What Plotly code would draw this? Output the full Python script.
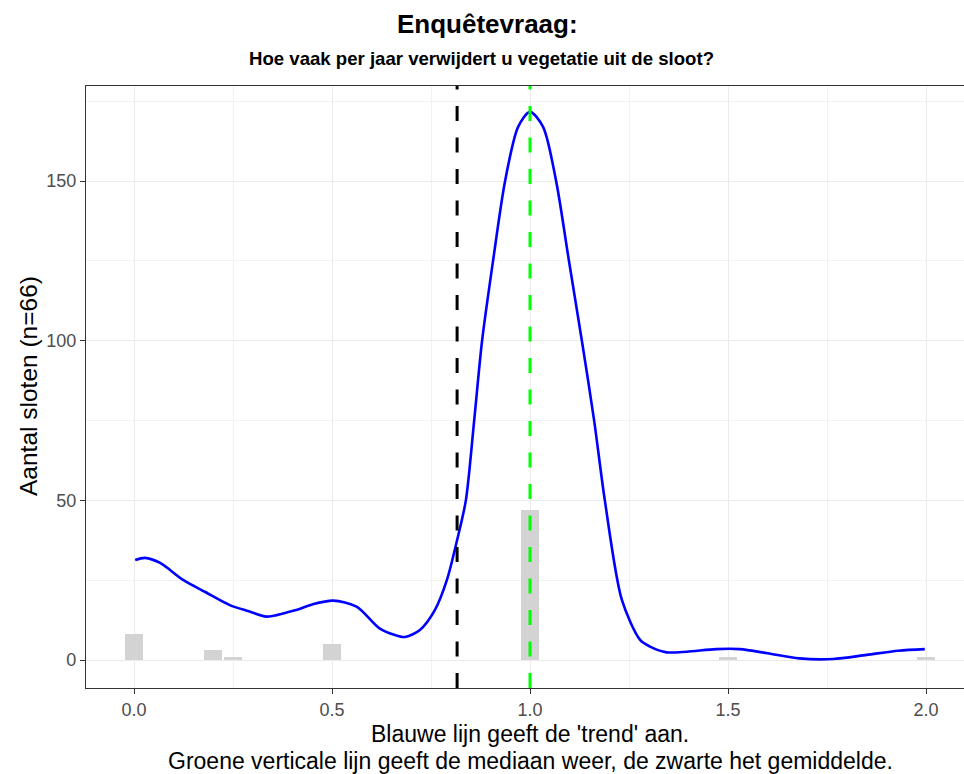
import plotly.graph_objects as go

# ---- data ----
bar_x = [0.0, 0.2, 0.25, 0.5, 1.0, 1.5, 2.0]
bar_counts = [8, 3, 1, 5, 47, 1, 1]

trend_x = [0.003, 0.028, 0.066, 0.125, 0.18, 0.242, 0.29, 0.335, 0.41, 0.45, 0.503,
           0.562, 0.62, 0.659, 0.684, 0.722, 0.76, 0.79, 0.816, 0.838, 0.859, 0.879,
           0.907, 0.937, 0.97, 1.0, 1.033, 1.066, 1.098, 1.131, 1.162, 1.189, 1.232,
           1.278, 1.303, 1.345, 1.396, 1.47, 1.53, 1.6, 1.68, 1.765, 1.85, 1.93, 1.997]
trend_y = [31.3, 32.0, 30.4, 25.0, 21.3, 17.2, 15.3, 13.6, 15.7, 17.4, 18.6,
           16.7, 9.9, 7.8, 7.2, 9.4, 15.7, 25.0, 37.6, 50.0, 75.0, 100.0,
           125.3, 150.0, 167.0, 171.7, 167.0, 150.0, 125.3, 100.0, 75.0, 50.0, 18.8,
           6.3, 4.2, 2.4, 2.6, 3.4, 3.4, 2.1, 0.5, 0.3, 1.6, 2.9, 3.4]

mean_value = sum(x * c for x, c in zip(bar_x, bar_counts)) / sum(bar_counts)
median_value = 1.0

x_ticks = [0.0, 0.5, 1.0, 1.5, 2.0]
x_tick_labels = ["0.0", "0.5", "1.0", "1.5", "2.0"]
y_ticks = [0, 50, 100, 150]
y_tick_labels = ["0", "50", "100", "150"]

title_text = "Enquêtevraag:"
subtitle_text = "Hoe vaak per jaar verwijdert u vegetatie uit de sloot?"
x_title_lines = ["Blauwe lijn geeft de 'trend' aan.",
                 "Groene verticale lijn geeft de mediaan weer, de zwarte het gemiddelde."]
y_title = "Aantal sloten (n=66)"

FONT = "Liberation Sans, Arial, sans-serif"

fig = go.Figure()
fig.add_trace(go.Bar(x=bar_x, y=bar_counts, width=0.045,
                     marker=dict(color="#d3d3d3", line=dict(width=0)),
                     hoverinfo="x+y", showlegend=False))
fig.add_trace(go.Scatter(x=trend_x, y=trend_y, mode="lines",
                         line=dict(color="#0000ff", width=2.6, shape="spline", smoothing=0.8),
                         showlegend=False))

for xv, col in [(mean_value, "#000000"), (median_value, "#00ff00")]:
    fig.add_shape(type="line", xref="x", yref="paper", x0=xv, x1=xv, y0=0, y1=1,
                  line=dict(color=col, width=3, dash="15px,16.5px"), layer="above")

W, H = 964, 774
ml, mr, mt, mb = 86, 0, 86, 86
pw, ph = W - ml - mr, H - mt - mb

def px_x(p):
    return (p - ml) / pw

def px_y(p):
    return (H - mb - p) / ph

annotations = [
    dict(text="<b>" + title_text + "</b>", x=px_x(487), y=px_y(24), xref="paper", yref="paper",
         showarrow=False, font=dict(family=FONT, size=26, color="#000000"),
         xanchor="center", yanchor="middle"),
    dict(text="<b>" + subtitle_text + "</b>", x=px_x(481), y=px_y(59), xref="paper", yref="paper",
         showarrow=False, font=dict(family=FONT, size=18.6, color="#000000"),
         xanchor="center", yanchor="middle"),
    dict(text=x_title_lines[0], x=px_x(530), y=px_y(733.5), xref="paper", yref="paper",
         showarrow=False, font=dict(family=FONT, size=23, color="#000000"),
         xanchor="center", yanchor="middle", borderpad=0),
    dict(text=x_title_lines[1], x=px_x(530), y=px_y(760.5), xref="paper", yref="paper",
         showarrow=False, font=dict(family=FONT, size=23, color="#000000"),
         xanchor="center", yanchor="middle", borderpad=0),
    dict(text=y_title, x=px_x(28), y=px_y(386), xref="paper", yref="paper",
         showarrow=False, textangle=-90, font=dict(family=FONT, size=24.5, color="#000000"),
         xanchor="center", yanchor="middle"),
]

fig.update_layout(
    width=W, height=H,
    margin=dict(l=ml, r=mr, t=mt, b=mb, pad=0),
    paper_bgcolor="white", plot_bgcolor="white",
    font=dict(family=FONT),
    bargap=0,
    annotations=annotations,
    showlegend=False,
)

fig.update_xaxes(
    range=[-0.1212, (964 - 134) / 396],
    tickmode="array", tickvals=x_ticks, ticktext=x_tick_labels,
    tickfont=dict(family=FONT, size=18, color="#4d4d4d"),
    ticks="outside", ticklen=5, tickwidth=1.1, tickcolor="#333333",
    showgrid=True, gridcolor="#ebebeb", gridwidth=1.1,
    minor=dict(tickvals=[0.25, 0.75, 1.25, 1.75], showgrid=True, gridcolor="#f2f2f2", gridwidth=0.6, ticks=""),
    showline=True, linecolor="#333333", linewidth=1.3, mirror=True,
    zeroline=False,
)
fig.update_yaxes(
    range=[-8.77, 179.8],
    tickmode="array", tickvals=y_ticks, ticktext=y_tick_labels,
    tickfont=dict(family=FONT, size=18, color="#4d4d4d"),
    ticks="outside", ticklen=5, tickwidth=1.1, tickcolor="#333333",
    showgrid=True, gridcolor="#ebebeb", gridwidth=1.1,
    minor=dict(tickvals=[25, 75, 125, 175], showgrid=True, gridcolor="#f2f2f2", gridwidth=0.6, ticks=""),
    showline=True, linecolor="#333333", linewidth=1.3, mirror=False,
    zeroline=False,
)

fig.write_html(
    "out.html",
    config={"displayModeBar": False},
    post_script="document.body.style.margin='0';document.body.style.overflow='hidden';"
                "document.documentElement.style.overflow='hidden';",
)
